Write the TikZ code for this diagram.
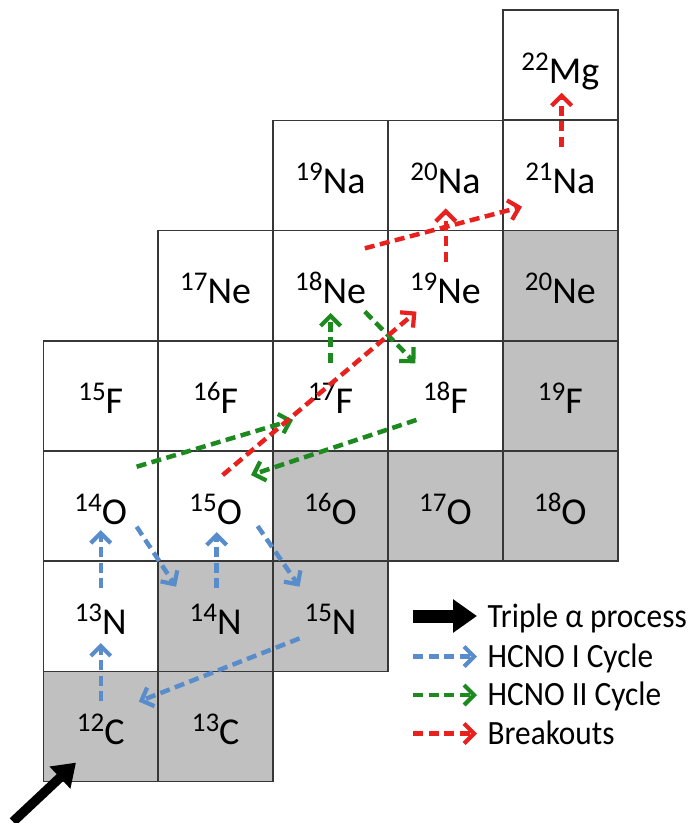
\documentclass[tikz,border=0pt]{standalone}
\usepackage{fontspec}
\setmainfont{Carlito}
\usetikzlibrary{arrows.meta}
\definecolor{cellline}{RGB}{55,55,55}
\definecolor{stablegray}{RGB}{192,192,192}
\definecolor{hcnoone}{RGB}{88,140,202}
\definecolor{hcnotwo}{RGB}{28,138,30}
\definecolor{breakred}{RGB}{232,32,30}
\newcommand\iso[2]{\raisebox{13pt}{\fontsize{27}{27}\selectfont #1}#2}
\newcommand\labfont{\fontsize{38}{38}\selectfont}
\newcommand\legfont{\fontsize{34}{34}\selectfont}
\newcommand\legtxt[1]{\scalebox{0.92}[1]{#1}}
\tikzset{
  cell/.style={draw=cellline, line width=1.5pt, minimum width=114.9pt, minimum height=110.25pt,
    inner sep=0pt, outer sep=0pt, text height=36pt, text depth=0pt, font=\labfont},
  stable/.style={cell, fill=stablegray},
  flow/.style={line width=4.5pt, dash pattern=on 10pt off 5.5pt,
    -{Straight Barb[length=10pt,width=20pt,line width=4.2pt]}},
  hcnoI/.style={flow, draw=hcnoone},
  hcnoII/.style={flow, draw=hcnotwo},
  brk/.style={flow, draw=breakred},
  legtext/.style={anchor=base west, inner sep=0pt, font=\legfont},
}
\begin{document}
\begin{tikzpicture}[x=1pt,y=-1pt]
\useasboundingbox (0,0) rectangle (690,823);
% row 0
\node[cell] (Mg22) at (560.35,65.1) {\iso{22}{Mg}};
% row 1
\node[cell] (Na19) at (330.55,175.4) {\iso{19}{Na}};
\node[cell] (Na20) at (445.45,175.4) {\iso{20}{Na}};
\node[cell] (Na21) at (560.35,175.4) {\iso{21}{Na}};
% row 2
\node[cell] (Ne17) at (215.65,285.6) {\iso{17}{Ne}};
\node[cell] (Ne18) at (330.55,285.6) {\iso{18}{Ne}};
\node[cell] (Ne19) at (445.45,285.6) {\iso{19}{Ne}};
\node[stable] (Ne20) at (560.35,285.6) {\iso{20}{Ne}};
% row 3
\node[cell] (F15) at (100.75,395.9) {\iso{15}{F}};
\node[cell] (F16) at (215.65,395.9) {\iso{16}{F}};
\node[cell] (F17) at (330.55,395.9) {\iso{17}{F}};
\node[cell] (F18) at (445.45,395.9) {\iso{18}{F}};
\node[stable] (F19) at (560.35,395.9) {\iso{19}{F}};
% row 4
\node[cell] (O14) at (100.75,506.1) {\iso{14}{O}};
\node[cell] (O15) at (215.65,506.1) {\iso{15}{O}};
\node[stable] (O16) at (330.55,506.1) {\iso{16}{O}};
\node[stable] (O17) at (445.45,506.1) {\iso{17}{O}};
\node[stable] (O18) at (560.35,506.1) {\iso{18}{O}};
% row 5
\node[cell] (N13) at (100.75,616.4) {\iso{13}{N}};
\node[stable] (N14) at (215.65,616.4) {\iso{14}{N}};
\node[stable] (N15) at (330.55,616.4) {\iso{15}{N}};
% row 6
\node[stable] (C12) at (100.75,726.6) {\iso{12}{C}};
\node[stable] (C13) at (215.65,726.6) {\iso{13}{C}};

% HCNO I
\draw[hcnoI] ([shift={(0,-25.6)}]C12.center) -- ([shift={(0,26.6)}]N13.center);
\draw[hcnoI] ([shift={(0,-28.4)}]N13.center) -- ([shift={(0,24)}]O14.center);
\draw[hcnoI] ([shift={(35.9,20.6)}]O14.center) -- ([shift={(-39.6,-29.7)}]N14.center);
\draw[hcnoI] ([shift={(1,-28.4)}]N14.center) -- ([shift={(1,26)}]O15.center);
\draw[hcnoI] ([shift={(42,20)}]O15.center) -- ([shift={(-31,-29.7)}]N15.center);
\draw[hcnoI] ([shift={(-31,22)}]N15.center) -- ([shift={(38,-25)}]C12.center);

% HCNO II
\draw[hcnoII] ([shift={(35.9,-39.4)}]O14.center) -- ([shift={(-37.5,24)}]F17.center);
\draw[hcnoII] ([shift={(0,-33)}]F17.center) -- ([shift={(0,27.4)}]Ne18.center);
\draw[hcnoII] ([shift={(34.3,26)}]Ne18.center) -- ([shift={(-30,-32.6)}]F18.center);
\draw[hcnoII] ([shift={(-29,24)}]F18.center) -- ([shift={(35.4,-31)}]O15.center);

% Breakouts
\draw[brk] ([shift={(7,-31)}]O15.center) -- ([shift={(-29,26)}]Ne19.center);
\draw[brk] ([shift={(34.3,-37.3)}]Ne18.center) -- ([shift={(-38.3,31.3)}]Na21.center);
\draw[brk] ([shift={(0.3,-24)}]Ne19.center) -- ([shift={(0.3,33)}]Na20.center);
\draw[brk] ([shift={(1.3,-28.7)}]Na21.center) -- ([shift={(1.3,27.6)}]Mg22.center);

% Triple alpha
\coordinate (alphaTail) at (13,821.7);
\draw[line width=9.5pt, -{Triangle[length=22pt,width=29pt]}] (alphaTail) -- ([shift={(-24.75,36)}]C12.center);

% Legend
\coordinate (lgA1) at (413,616); \coordinate (lgA2) at (477,616);
\coordinate (lgB1) at (413,656.5); \coordinate (lgB2) at (477,656.5);
\coordinate (lgC1) at (413,695); \coordinate (lgC2) at (477,695);
\coordinate (lgD1) at (413,733.5); \coordinate (lgD2) at (477,733.5);
\draw[line width=13pt, -{Triangle[length=24pt,width=32pt]}] (lgA1) -- (lgA2);
\draw[hcnoI] (lgB1) -- (lgB2);
\draw[hcnoII] (lgC1) -- (lgC2);
\draw[brk] (lgD1) -- (lgD2);
\node[legtext] (legA) at (487.5,627.5) {\legtxt{Triple α process}};
\node[legtext] (legB) at (487.5,667) {\legtxt{HCNO I Cycle}};
\node[legtext] (legC) at (487.5,705.5) {\legtxt{HCNO II Cycle}};
\node[legtext] (legD) at (487.5,744) {\legtxt{Breakouts}};
\end{tikzpicture}
\end{document}
